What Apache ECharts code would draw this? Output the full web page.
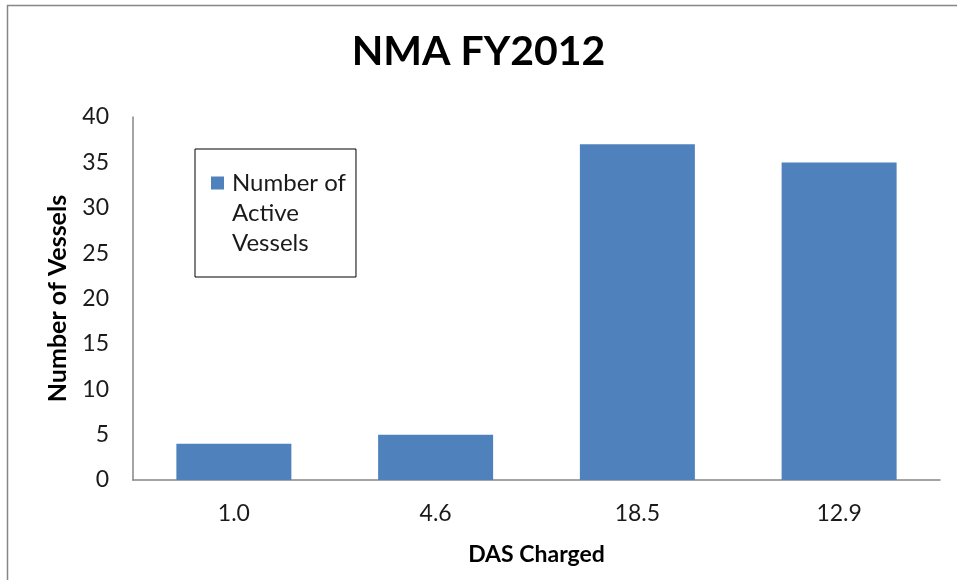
<!DOCTYPE html>
<html>
<head>
<meta charset="utf-8">
<script src="https://cdn.jsdelivr.net/npm/echarts@6/dist/echarts.min.js"></script>
<style>
  html, body { margin: 0; padding: 0; background: #fff; }
  #chart { width: 957px; height: 580px; }
</style>
</head>
<body>
<div id="chart"></div>
<script>
// DAS charged per category and the number of active vessels in each
const categories = ['1.0', '4.6', '18.5', '12.9'];
const vesselCounts = [4, 5, 37, 35];
const seriesName = 'Number of Active Vessels';
const yTicks = { min: 0, max: 40, interval: 5 };

const FONT = 'Lato, "Open Sans", sans-serif';
const TEXT = '#1a1a1a';
const AXIS = '#868686';

const chart = echarts.init(document.getElementById('chart'), null, { renderer: 'canvas' });

chart.setOption({
  backgroundColor: '#ffffff',
  animation: false,
  title: {
    text: 'NMA FY2012',
    left: 'center',
    top: 26,
    textStyle: { fontFamily: FONT, fontWeight: 'bold', fontSize: 41, color: '#000' }
  },
  graphic: [{
    type: 'rect',
    shape: { x: 7.5, y: 5.5, width: 1000, height: 1000 },
    style: { fill: 'none', stroke: AXIS, lineWidth: 1.5 },
    silent: true
  }],
  legend: {
    left: 195,
    top: 149,
    orient: 'vertical',
    padding: [19, 10, 19, 16],
    borderColor: '#000',
    borderWidth: 1,
    itemWidth: 16,
    itemHeight: 90,
    // square swatch beside the first text line; corner points keep the box size
    icon: 'path://M0,0L0.01,0Z M16,0L16.01,0Z M0,8.5L13,8.5L13,21.5L0,21.5Z M0,90L0.01,90Z',
    formatter: () => 'Number of\nActive\nVessels',
    textStyle: { fontFamily: FONT, fontSize: 24, lineHeight: 30, color: TEXT },
    data: [seriesName]
  },
  grid: { left: 133, right: 17, top: 117, bottom: 100, containLabel: false },
  xAxis: {
    type: 'category',
    data: categories,
    name: 'DAS Charged',
    nameLocation: 'middle',
    nameGap: 63,
    nameTextStyle: { fontFamily: FONT, fontWeight: 'bold', fontSize: 23, color: '#000' },
    axisLine: { show: true, lineStyle: { color: AXIS, width: 1.5 } },
    axisTick: { show: false },
    axisLabel: { margin: 22, fontFamily: FONT, fontSize: 23, color: TEXT }
  },
  yAxis: {
    type: 'value',
    min: yTicks.min,
    max: yTicks.max,
    interval: yTicks.interval,
    name: 'Number of Vessels',
    nameLocation: 'middle',
    nameGap: 63,
    nameRotate: 90,
    nameTextStyle: { fontFamily: FONT, fontWeight: 'bold', fontSize: 25, color: '#000' },
    axisLine: { show: true, lineStyle: { color: AXIS, width: 1.5 } },
    axisTick: { show: false },
    splitLine: { show: false },
    axisLabel: { margin: 24, fontFamily: FONT, fontSize: 23, color: TEXT }
  },
  series: [{
    name: seriesName,
    type: 'bar',
    data: vesselCounts,
    barCategoryGap: '43%',
    itemStyle: { color: '#4F81BD' }
  }]
});
</script>
</body>
</html>
